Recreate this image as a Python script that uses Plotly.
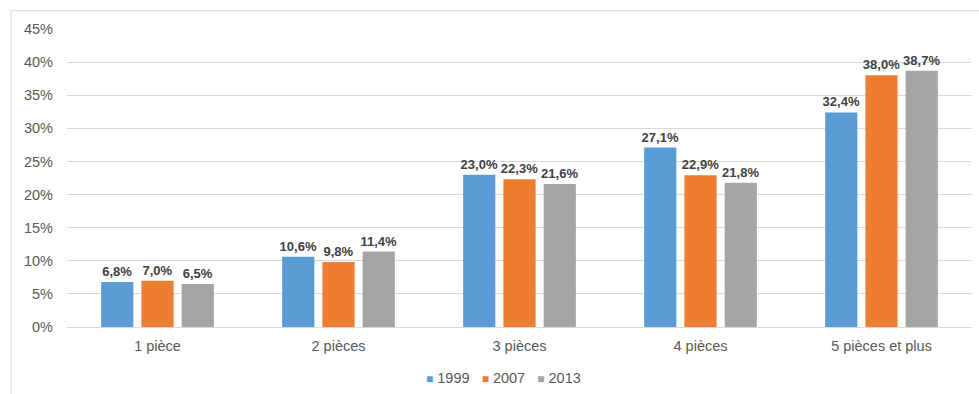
import plotly.graph_objects as go

# Répartition des logements selon le nombre de pièces
categories = ["1 pièce", "2 pièces", "3 pièces", "4 pièces", "5 pièces et plus"]
years = ["1999", "2007", "2013"]
values_1999 = [6.8, 10.6, 23.0, 27.1, 32.4]
values_2007 = [7.0, 9.8, 22.3, 22.9, 38.0]
values_2013 = [6.5, 11.4, 21.6, 21.8, 38.7]
y_ticks = [0, 5, 10, 15, 20, 25, 30, 35, 40, 45]

series = [values_1999, values_2007, values_2013]
colors = ["#5B9BD5", "#ED7D31", "#A5A5A5"]

FONT = "Liberation Sans, Arial, sans-serif"

def fr_pct(v):
    return f"{v:.1f}%".replace(".", ",")

fig = go.Figure()
for name, vals, col in zip(years, series, colors):
    fig.add_trace(go.Bar(
        x=categories, y=vals, name=name,
        marker=dict(color=col, line=dict(width=0)),
        text=[fr_pct(v) for v in vals],
        textposition="outside",
        textangle=0,
        constraintext="none",
        cliponaxis=False,
        textfont=dict(family=FONT, size=13, color="#404040", weight="bold"),
        hoverinfo="x+y+name",
    ))

# Légende compacte sous le graphique
legend_html = "&nbsp;&nbsp;&nbsp;".join(
    f'<span style="color:{c};font-size:12px">■</span> {n}' for n, c in zip(years, colors)
)

fig.update_layout(
    width=979, height=394,
    margin=dict(l=67, r=7, t=29, b=67),
    paper_bgcolor="white", plot_bgcolor="white",
    barmode="group", bargap=0.333, bargroupgap=0.2,
    showlegend=False,
    font=dict(family=FONT, size=14.5, color="#595959"),
    xaxis=dict(
        showgrid=False, showline=True, linecolor="#D9D9D9", linewidth=1,
        ticks="", ticklabelstandoff=6,
        tickfont=dict(size=14.5, color="#595959"),
    ),
    yaxis=dict(
        range=[0, 45], tickvals=y_ticks, ticktext=[f"{t}%" for t in y_ticks],
        showgrid=True, gridcolor="#D9D9D9", gridwidth=1,
        zeroline=False, showline=False, ticks="",
        ticklabelstandoff=13,
        tickfont=dict(size=14.5, color="#595959"),
    ),
    annotations=[dict(
        text=legend_html, xref="paper", yref="paper",
        x=0.482, y=-0.17, xanchor="center", yanchor="middle",
        showarrow=False, font=dict(family=FONT, size=14.5, color="#595959"),
    )],
    shapes=[dict(
        type="rect", xref="paper", yref="paper",
        x0=-0.0619, x1=1.05, y0=-0.3, y1=1.0614,
        line=dict(color="#D9D9D9", width=1), fillcolor="rgba(0,0,0,0)",
        layer="below",
    )],
)

fig.write_html("out.html")
